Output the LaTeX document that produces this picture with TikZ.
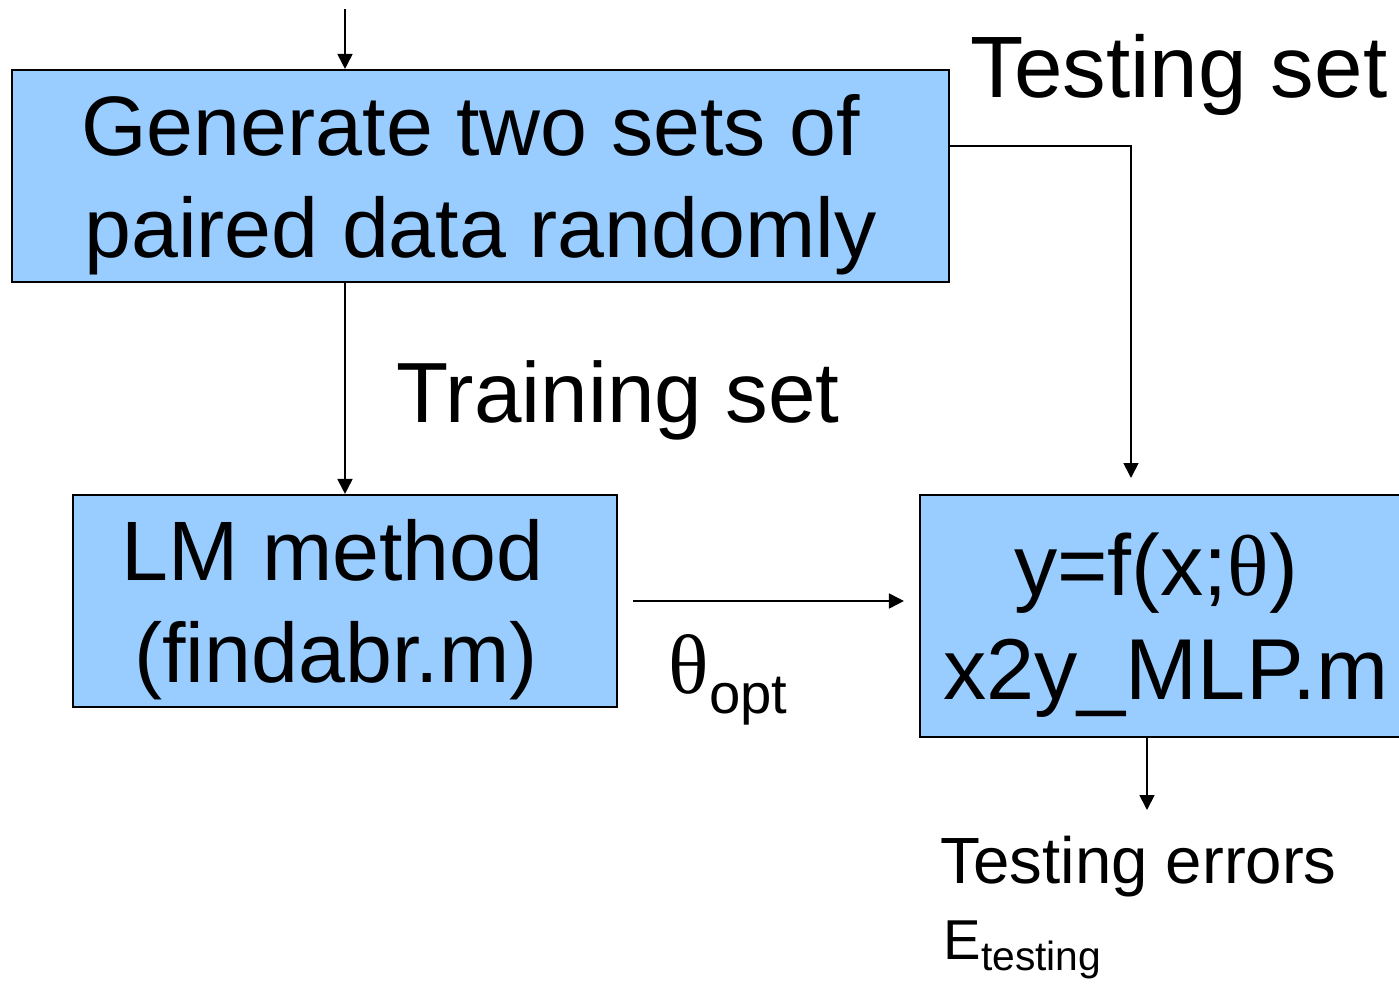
\documentclass[tikz,border=0pt]{standalone}
\usepackage{fontspec}
\setmainfont{Liberation Sans}
\newfontfamily\greekfont{Liberation Serif}
\usetikzlibrary{arrows.meta, positioning, calc}
\definecolor{boxblue}{HTML}{99CCFF}
\newcommand{\thetasym}{{\greekfont θ}}

\begin{document}
\begin{tikzpicture}[
    block/.style={draw=black, line width=0.6pt, fill=boxblue, align=center, inner sep=0pt, text depth=0pt, font=\fontsize{24}{29}\selectfont},
    note/.style={font=\fontsize{24}{29}\selectfont, inner sep=0pt, anchor=base west},
    arrow/.style={-{Triangle[length=0.15cm, width=0.15cm]}, line width=0.5pt}
]
\useasboundingbox (0,0) rectangle (13.99,-9.84);

% boxes
\node[block, minimum width=9.37cm, minimum height=2.12cm] (gen) at (4.805,-1.76) {Generate two sets of\kern0.2cm\\paired data randomly};
\node[block, minimum width=5.44cm, minimum height=2.12cm] (lm) at (3.45,-6.01) {LM method\kern0.25cm\\(findabr.m)\kern0.18cm};
\node[block, minimum width=4.92cm, minimum height=2.42cm, font=\fontsize{24.6}{29.6}\selectfont] (mlp) at (11.66,-6.16) {y=f(x;\thetasym)\kern0.2cm\\x2y\_MLP.m};

% labels
\node[note, font=\fontsize{24.8}{29}\selectfont] (testset) at (9.70,-0.97) {Testing set};
\node[note, font=\fontsize{24.3}{29}\selectfont] (trainset) at (3.96,-4.22) {Training set};
\node[note] (thopt) at (6.68,-6.93) {\thetasym\raisebox{-0.2cm}{\fontsize{16}{16}\selectfont opt}};
\node[note, font=\fontsize{18.6}{22}\selectfont] (errs) at (9.40,-8.83) {Testing errors};
\node[note, font=\fontsize{16}{19}\selectfont] (etest) at (9.43,-9.59) {E\raisebox{-0.11cm}{\fontsize{11.6}{13}\selectfont testing}};

% connectors
\coordinate (src) at (3.45,-0.09);
\coordinate (tstin) at (11.31,-4.78);
\coordinate (errout) at (11.47,-8.10);

\draw[arrow] (src) -- (src |- gen.north);
\draw[arrow] (src |- gen.south) -- (lm.north);
\draw[arrow] ([yshift=0.30cm]gen.east) -| (tstin);
\draw[arrow] ([xshift=0.15cm]lm.east) -- ([xshift=-0.15cm]mlp.west |- lm.east);
\draw[arrow] (errout |- mlp.south) -- (errout);

\end{tikzpicture}
\end{document}
